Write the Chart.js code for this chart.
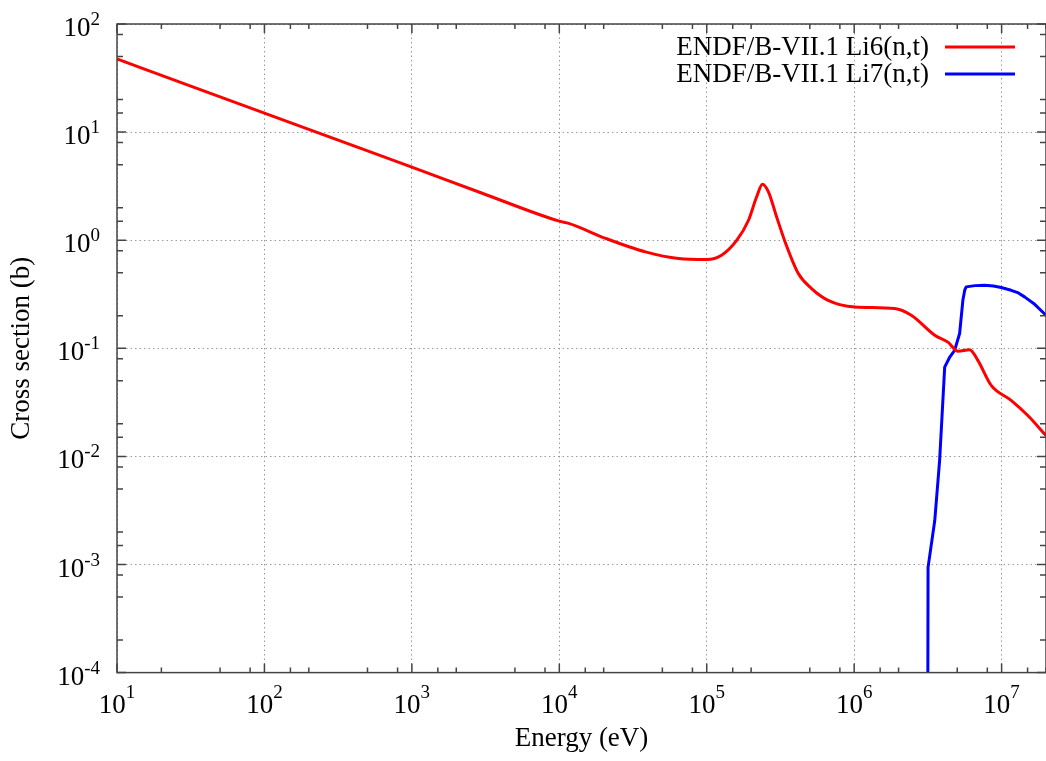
<!DOCTYPE html>
<html>
<head>
<meta charset="utf-8">
<script src="https://cdn.jsdelivr.net/npm/chart.js@4.4.1/dist/chart.umd.min.js"></script>
<style>
  body { margin: 0; background: #ffffff; }
  #wrap { width: 1046px; height: 761px; }
</style>
</head>
<body>
<div id="wrap"><canvas id="canvas_plot"></canvas></div>
<script>
// values (eV, barns)
var energy_li6 = [10, 30, 100, 300, 1000, 3000, 1e4, 1.16e4, 2.06e4, 3.84e4, 6.44e4, 1.0e5, 1.26e5, 1.6e5, 1.92e5,
    2.18e5, 2.39e5, 2.62e5, 2.98e5, 3.4e5, 4.18e5, 5.14e5, 6.66e5, 1.01e6, 1.88e6, 2.44e6, 3.52e6, 4.32e6,
    5.06e6, 6.07e6, 6.9e6, 8.5e6, 1.16e7, 1.5e7, 2.0e7]
var xs_li6 = [47.5, 27.3, 15.0, 8.65, 4.74, 2.72, 1.5, 1.43, 1.04, 0.78, 0.677, 0.662, 0.726, 1.0, 1.53,
    2.52, 3.3, 2.8, 1.64, 0.964, 0.492, 0.357, 0.278, 0.241, 0.233, 0.202, 0.132, 0.114,
    0.094, 0.097, 0.0774, 0.0454, 0.033, 0.024, 0.0156]

var energy_li7 = [3.16e6, 3.17e6, 3.52e6, 3.8e6, 4.11e6, 4.45e6, 4.8e6, 5.19e6, 5.46e6, 5.62e6, 5.75e6, 6.6e6,
    7.66e6, 8.8e6, 9.93e6, 1.16e7, 1.3e7, 1.43e7, 1.65e7, 2.0e7]
var xs_li7 = [1e-4, 9.4e-4, 2.55e-3, 9.3e-3, 0.067, 0.083, 0.0957, 0.137, 0.278, 0.345, 0.37, 0.38,
    0.383, 0.377, 0.365, 0.344, 0.325, 0.299, 0.26, 0.202]

var legend_labels = ['ENDF/B-VII.1 Li6(n,t)', 'ENDF/B-VII.1 Li7(n,t)']
var line_colors = ['#ff0000', '#0000ff']
var x_limits = [10, 2e7]
var y_limits = [1e-4, 100]
var minor_marks = [2, 5, 8]

var serif = "'Liberation Serif', 'Times New Roman', serif"

function toPoints(xs, ys) {
    var out = []
    for (var i = 0; i < xs.length; i++) {
        out.push({x: xs[i], y: ys[i]})
    }
    return out
}

function isPow10(v) {
    var l = Math.log10(v)
    return Math.abs(l - Math.round(l)) < 1e-6
}

function mantissa(v) {
    var e = Math.floor(Math.log10(v) + 1e-9)
    return Math.round(v / Math.pow(10, e))
}

// gnuplot-like frame: inward ticks on all sides, 10^n labels, legend
var framePlugin = {
    id: 'frame',
    afterDatasetsDraw: function (chart) {
        var ctx = chart.ctx
        var a = chart.chartArea
        var sx = chart.scales.x
        var sy = chart.scales.y
        ctx.save()
        ctx.strokeStyle = '#444444'
        ctx.lineWidth = 1.5

        sx.ticks.forEach(function (t) {
            var len = isPow10(t.value) ? 9 : (minor_marks.indexOf(mantissa(t.value)) >= 0 ? 5 : 0)
            if (!len) return
            var px = sx.getPixelForValue(t.value)
            ctx.beginPath()
            ctx.moveTo(px, a.bottom); ctx.lineTo(px, a.bottom - len)
            ctx.moveTo(px, a.top); ctx.lineTo(px, a.top + len)
            ctx.stroke()
        })
        sy.ticks.forEach(function (t) {
            var len = isPow10(t.value) ? 9 : (minor_marks.indexOf(mantissa(t.value)) >= 0 ? 6 : 0)
            if (!len) return
            var py = sy.getPixelForValue(t.value)
            ctx.beginPath()
            ctx.moveTo(a.left, py); ctx.lineTo(a.left + len, py)
            ctx.moveTo(a.right, py); ctx.lineTo(a.right - len, py)
            ctx.stroke()
        })
        ctx.strokeRect(a.left, a.top, a.right - a.left, a.bottom - a.top)

        // tick labels
        ctx.fillStyle = '#000000'
        ctx.textBaseline = 'alphabetic'
        sx.ticks.forEach(function (t) {
            if (!isPow10(t.value)) return
            var ex = String(Math.round(Math.log10(t.value)))
            var px = sx.getPixelForValue(t.value)
            ctx.font = '27px ' + serif
            var w1 = ctx.measureText('10').width
            ctx.font = '19px ' + serif
            var w2 = ctx.measureText(ex).width
            var x0 = px - (w1 + w2) / 2
            ctx.textAlign = 'left'
            ctx.font = '27px ' + serif
            ctx.fillText('10', x0, a.bottom + 40)
            ctx.font = '19px ' + serif
            ctx.fillText(ex, x0 + w1, a.bottom + 25)
        })
        sy.ticks.forEach(function (t) {
            if (!isPow10(t.value)) return
            var ex = String(Math.round(Math.log10(t.value)))
            var py = sy.getPixelForValue(t.value)
            ctx.font = '19px ' + serif
            var w2 = ctx.measureText(ex).width
            ctx.textAlign = 'right'
            ctx.fillText(ex, 100, py + 1)
            ctx.font = '27px ' + serif
            ctx.fillText('10', 100 - w2, py + 12)
        })

        // key, text right-aligned then line sample
        ctx.font = '27px ' + serif
        ctx.textAlign = 'right'
        ctx.textBaseline = 'middle'
        for (var i = 0; i < legend_labels.length; i++) {
            var ly = 47 + i * 27
            ctx.fillStyle = '#000000'
            ctx.fillText(legend_labels[i], 929, ly + 1)
            ctx.strokeStyle = line_colors[i]
            ctx.lineWidth = 3
            ctx.beginPath()
            ctx.moveTo(945, ly); ctx.lineTo(1015, ly)
            ctx.stroke()
        }
        ctx.restore()
    }
}

var gridColor = function (c) {
    return (c.tick && isPow10(c.tick.value)) ? '#9a9a9a' : 'rgba(0,0,0,0)'
}

var config = {
    type: 'line',
    data: {
        datasets: [{
            label: legend_labels[0],
            data: toPoints(energy_li6, xs_li6),
            borderColor: line_colors[0],
            borderWidth: 3,
            pointRadius: 0,
            cubicInterpolationMode: 'monotone',
            fill: false
        }, {
            label: legend_labels[1],
            data: toPoints(energy_li7, xs_li7),
            borderColor: line_colors[1],
            borderWidth: 3,
            pointRadius: 0,
            tension: 0,
            borderJoinStyle: 'round',
            fill: false
        }]
    },
    options: {
        responsive: true,
        maintainAspectRatio: false,
        animation: false,
        layout: { padding: { top: 24, right: 0, left: 0, bottom: 0 } },
        plugins: {
            legend: { display: false },
            tooltip: { enabled: false }
        },
        scales: {
            x: {
                type: 'logarithmic',
                min: x_limits[0],
                max: x_limits[1],
                ticks: { display: false },
                border: { display: false, dash: [1.5, 3] },
                grid: { color: gridColor, drawTicks: false, lineWidth: 1 },
                title: {
                    display: true,
                    text: 'Energy (eV)',
                    color: '#000000',
                    font: { family: serif, size: 27 },
                    padding: { top: 50, bottom: 6 }
                }
            },
            y: {
                type: 'logarithmic',
                min: y_limits[0],
                max: y_limits[1],
                ticks: { display: false },
                border: { display: false, dash: [1.5, 3] },
                grid: { color: gridColor, drawTicks: false, lineWidth: 1 },
                title: {
                    display: true,
                    text: 'Cross section (b)',
                    color: '#000000',
                    font: { family: serif, size: 27 },
                    padding: { top: 6, bottom: 78.6 }
                }
            }
        }
    },
    plugins: [framePlugin]
}

var myChart = new Chart(document.getElementById('canvas_plot'), config)
</script>
</body>
</html>
